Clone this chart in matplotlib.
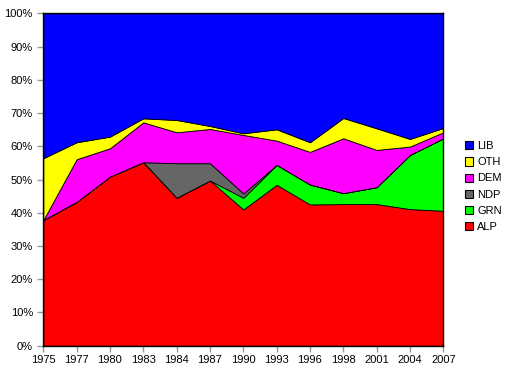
import numpy as np
import matplotlib
matplotlib.use("Agg")
import matplotlib.pyplot as plt
from matplotlib.patches import Patch

years = ["1975", "1977", "1980", "1983", "1984", "1987", "1990",
         "1993", "1996", "1998", "2001", "2004", "2007"]

# vote shares (%), bottom to top
alp = [37.8, 43.3, 50.9, 55.2, 44.5, 49.7, 41.0, 48.4, 42.5, 42.6, 42.6, 41.1, 40.6]
grn = [0.0, 0.0, 0.0, 0.0, 0.0, 0.0, 3.5, 6.0, 6.0, 3.3, 5.1, 16.3, 21.8]
ndp = [0.0, 0.0, 0.0, 0.0, 10.4, 5.2, 1.3, 0.0, 0.0, 0.0, 0.0, 0.0, 0.0]
dem = [0.0, 12.8, 8.5, 12.0, 9.3, 10.3, 17.6, 7.3, 9.8, 16.5, 11.2, 2.5, 1.8]
oth = [18.6, 5.1, 3.5, 1.2, 3.7, 0.9, 0.5, 3.4, 2.9, 6.1, 6.5, 2.3, 1.3]
lib = [43.6, 38.8, 37.1, 31.6, 32.1, 33.9, 36.1, 34.9, 38.8, 31.5, 34.6, 37.8, 34.5]

names = ["ALP", "GRN", "NDP", "DEM", "OTH", "LIB"]
colors = ["#FF0000", "#00FF00", "#666666", "#FF00FF", "#FFFF00", "#0000FF"]

data = np.array([alp, grn, ndp, dem, oth, lib])
data = data / data.sum(axis=0) * 100

plt.rcParams['font.family'] = ['Liberation Sans', 'DejaVu Sans']

fig = plt.figure(figsize=(5.23, 3.84), dpi=100)
ax = fig.add_axes([43.3 / 523, 1 - 345.7 / 384, 400 / 523, 332.4 / 384])

x = np.arange(len(years))
ax.stackplot(x, data, colors=colors, edgecolor="black", linewidth=0.6)

ax.set_xlim(0, len(years) - 1)
ax.set_ylim(0, 100)
ax.set_xticks(x)
ax.set_xticklabels(years)
ax.set_yticks(range(0, 101, 10))
ax.set_yticklabels([f"{v}%" for v in range(0, 101, 10)])
ax.tick_params(axis="both", labelsize=8, length=4, color="#999999", width=1)
ax.tick_params(axis="x", pad=3)
for s in ax.spines.values():
    s.set_linewidth(1)
    s.set_color("black")

handles = [Patch(facecolor=c, edgecolor="black", linewidth=0.8, label=n)
           for n, c in zip(names, colors)][::-1]
fig.legend(handles=handles, loc="center left", bbox_to_anchor=(455 / 523, 1 - 186.5 / 384),
           frameon=False, fontsize=8, handlelength=0.75, handleheight=0.75,
           handletextpad=0.35, labelspacing=0.55)

fig.savefig("out.png", dpi=100)
